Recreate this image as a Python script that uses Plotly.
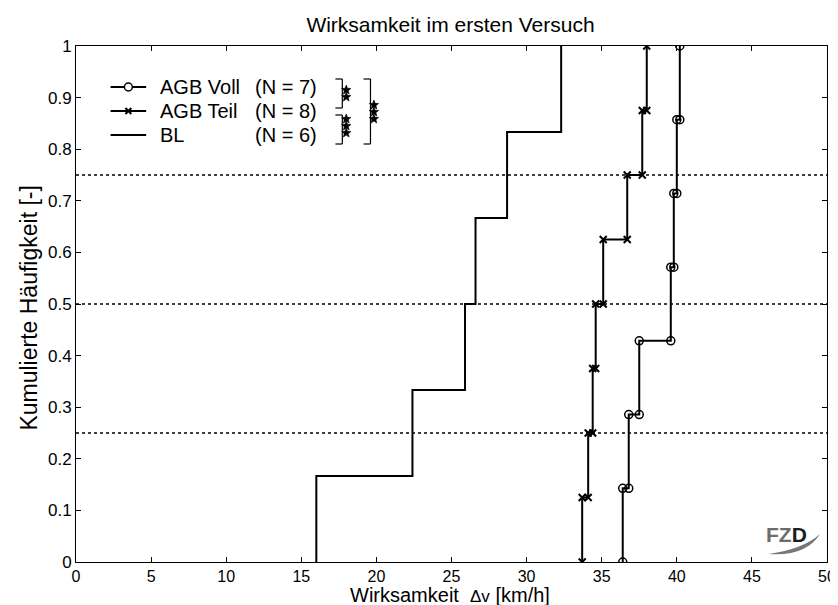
import math
import plotly.graph_objects as go

# ---------------- data ----------------
voll_x = [36.4, 36.8, 37.5, 39.6, 39.8, 40.0, 40.2]          # AGB Voll, N = 7
teil_x = [33.7, 34.1, 34.4, 34.6, 35.1, 36.7, 37.7, 38.0]    # AGB Teil, N = 8
bl_x = [16.0, 22.4, 25.9, 26.6, 28.7, 32.3]                  # BL, N = 6

series_names = ["AGB Voll", "AGB Teil", "BL"]
quartile_levels = [0.25, 0.5, 0.75]

x_tickvals = [0, 5, 10, 15, 20, 25, 30, 35, 40, 45, 50]
y_tickvals = [0, 0.1, 0.2, 0.3, 0.4, 0.5, 0.6, 0.7, 0.8, 0.9, 1]
y_ticktext = ["0", "0.1", "0.2", "0.3", "0.4", "0.5", "0.6", "0.7", "0.8", "0.9", "1"]

# ---------------- geometry helpers ----------------
W, H = 838, 605
ML, MR, MT, MB = 68, 10, 38, 51
PW, PH = W - ML - MR, H - MT - MB


def px(x):
    return (x - ML) / PW


def py(y):
    return (H - MB - y) / PH


def ecdf_steps(xs):
    """Staircase vertices of the empirical cumulative distribution."""
    xs = sorted(xs)
    n = len(xs)
    sx, sy = [], []
    for i, v in enumerate(xs):
        sx += [v, v]
        sy += [i / n, (i + 1) / n]
    return sx, sy, n


FONT = "Liberation Sans, Arial, sans-serif"
fig = go.Figure()

vx, vy, vn = ecdf_steps(voll_x)
tx, ty, tn = ecdf_steps(teil_x)
bx, by, bn = ecdf_steps(bl_x)

fig.add_trace(go.Scatter(
    x=vx, y=vy, mode="lines+markers", name=series_names[0], showlegend=False,
    line=dict(color="black", width=2),
    marker=dict(symbol="circle-open", size=8, color="black", line=dict(width=1.5)),
))
fig.add_trace(go.Scatter(
    x=tx, y=ty, mode="lines+markers", name=series_names[1], showlegend=False,
    line=dict(color="black", width=2),
    marker=dict(symbol="x-thin-open", size=7, color="black", line=dict(width=2, color="black")),
))
fig.add_trace(go.Scatter(
    x=bx, y=by, mode="lines", name=series_names[2], showlegend=False,
    line=dict(color="black", width=2),
))

shapes = []
annotations = []

# dotted quartile reference lines
for q in quartile_levels:
    shapes.append(dict(type="line", xref="paper", yref="y", x0=0, x1=1, y0=q, y1=q,
                       line=dict(color="black", width=1.5, dash="dot")))


def pline(x0, y0, x1, y1, w=1.2, color="black"):
    return dict(type="line", xref="paper", yref="paper", x0=px(x0), x1=px(x1),
                y0=py(y0), y1=py(y1), line=dict(color=color, width=w))


def ptext(text, x, y, size, xanchor="center", color="black", angle=0):
    return dict(text=text, x=px(x), y=py(y), xref="paper", yref="paper", showarrow=False,
                xanchor=xanchor, yanchor="middle", textangle=angle, borderpad=0,
                font=dict(size=size, family=FONT, color=color))


# ---------------- legend (drawn by hand, MATLAB style) ----------------
row_y = [79, 103, 127]
counts = [vn, tn, bn]
for name, n, yy in zip(series_names, counts, row_y):
    shapes.append(pline(103, yy, 139, yy, w=2))
    annotations.append(ptext(name, 152, yy, 20, xanchor="left"))
    annotations.append(ptext(f"(N = {n})", 248, yy, 20, xanchor="left"))
# legend marker: circle
shapes.append(dict(type="circle", xref="paper", yref="paper",
                   x0=px(117), x1=px(125), y0=py(row_y[0] + 4), y1=py(row_y[0] - 4),
                   line=dict(color="black", width=1.5), fillcolor="white"))
# legend marker: cross
shapes.append(pline(118, row_y[1] - 3, 124, row_y[1] + 3, w=2))
shapes.append(pline(118, row_y[1] + 3, 124, row_y[1] - 3, w=2))

# ---------------- significance brackets and stars ----------------
def bracket(xv, xl, ytop, ybot):
    return [pline(xl, ytop, xv, ytop), pline(xv, ytop, xv, ybot), pline(xl, ybot, xv, ybot)]


shapes += bracket(337.5, 330.5, 71, 100)
shapes += bracket(337.5, 330.5, 107, 136)
shapes += bracket(366, 359, 71, 136)


def star_path(cx, cy, R=5.0, r=2.1):
    pts = []
    for k in range(10):
        ang = math.radians(-90 + 36 * k)
        rad = R if k % 2 == 0 else r
        pts.append(f"{px(cx + rad * math.cos(ang)):.5f},{py(cy + rad * math.sin(ang)):.5f}")
    return "M " + " L ".join(pts) + " Z"


star_pos = [(341.5, 82), (341.5, 89), (341.5, 111), (341.5, 118), (341.5, 125),
            (369.5, 97), (369.5, 104), (369.5, 111)]
for sx_, sy_ in star_pos:
    shapes.append(dict(type="path", xref="paper", yref="paper", path=star_path(sx_, sy_),
                       fillcolor="black", line=dict(color="black", width=0.6)))

# ---------------- FZD logo ----------------
def P(x, y):
    return f"{px(x):.5f},{py(y):.5f}"


swoosh = f"M {P(769,546)} Q {P(806,549)} {P(821,526)} Q {P(804,541)} {P(769,546)} Z"
shapes.append(dict(type="path", xref="paper", yref="paper", path=swoosh,
                   fillcolor="#777777", line=dict(width=0)))
annotations.append(ptext("<b><span style='color:#6c6c6c'>FZ</span>D</b>", 787, 526, 21,
                         color="#1c1c1c"))

# ---------------- axis titles ----------------
annotations.append(ptext("Wirksamkeit  <span style='font-size:17px'>Δv</span> [km/h]", 446, 587, 20))
annotations.append(ptext("Kumulierte Häufigkeit [-]", 20, 300, 23, angle=-90))

fig.update_layout(
    width=W, height=H,
    margin=dict(l=ML, r=MR, t=MT, b=MB),
    paper_bgcolor="white", plot_bgcolor="white",
    font=dict(family=FONT, color="black", size=16),
    title=dict(text="Wirksamkeit im ersten Versuch", x=px(447), xref="paper", xanchor="center",
               y=1 - 17 / H, yref="container", yanchor="middle",
               font=dict(size=21, family=FONT, color="black")),
    showlegend=False,
    shapes=shapes, annotations=annotations,
    xaxis=dict(range=[0, 50], tickvals=x_tickvals, ticks="inside", ticklen=5, tickcolor="black",
               showline=True, linecolor="black", linewidth=1, mirror="ticks", showgrid=False,
               zeroline=False, tickfont=dict(size=16, family=FONT, color="black")),
    yaxis=dict(range=[0, 1], tickvals=y_tickvals, ticktext=y_ticktext, ticks="inside", ticklen=5,
               tickcolor="black", showline=True, linecolor="black", linewidth=1, mirror="ticks",
               showgrid=False, zeroline=False, tickfont=dict(size=17, family=FONT, color="black")),
)

fig.write_html("out.html")
